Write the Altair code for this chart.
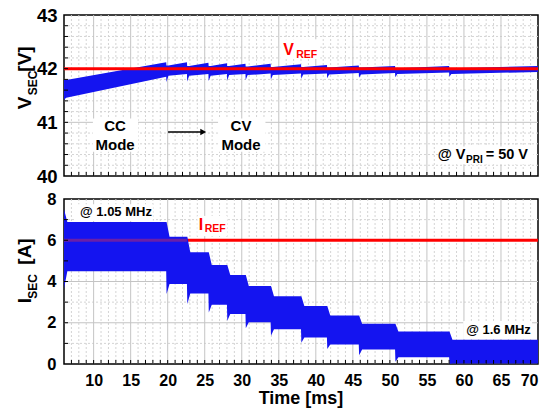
import altair as alt
import pandas as pd

FONT = "Liberation Sans"
W = 474
H_TOP, H_BOT = 161, 165

# ---------------- data ----------------
t_start, t_end = 6.0, 70.0
step_times = [19.8, 22.6, 25.5, 28.0, 30.5, 33.9, 38.0, 41.5, 45.8, 50.7, 58.0]

# secondary current envelope per segment [A]
i_upper = [6.88, 6.17, 5.42, 4.80, 4.31, 3.78, 3.28, 2.81, 2.35, 1.95, 1.57, 1.18]
i_lower = [4.50, 3.88, 3.42, 2.87, 2.43, 2.02, 1.68, 1.29, 0.95, 0.70, 0.33, 0.02]
i_dip = [3.65, 3.39, 2.91, 2.50, 2.10, 1.73, 1.37, 1.03, 0.73, 0.42, 0.11, 0.00]
i_start_peak = 7.50

# secondary voltage envelope per segment [V]
v_upper_start = [41.79, 42.06, 42.05, 42.05, 42.05, 42.04, 42.03, 42.03, 42.02, 42.02, 42.01, 42.01]
v_upper_end = [42.12, 42.12, 42.11, 42.10, 42.09, 42.09, 42.08, 42.07, 42.06, 42.05, 42.05, 42.05]
v_lower_start = [41.46, 41.87, 41.87, 41.87, 41.88, 41.88, 41.88, 41.89, 41.89, 41.89, 41.90, 41.90]
v_lower_end = [41.85, 41.90, 41.90, 41.90, 41.90, 41.91, 41.91, 41.91, 41.92, 41.92, 41.93, 41.94]
v_dip = [41.42, 41.75, 41.76, 41.77, 41.78, 41.79, 41.80, 41.81, 41.82, 41.83, 41.84, 41.85]

V_REF = 42.0
I_REF = 6.0

x_labels = [10, 15, 20, 25, 30, 35, 40, 45, 50, 55, 60, 65, 70]
v_labels = [40, 41, 42, 43]
i_labels = [0, 2, 4, 6, 8]

# ---------------- tables ----------------
seg_bounds = [t_start] + step_times + [t_end]

i_rows = [(t_start, i_start_peak, i_dip[0])]
for k in range(len(i_upper)):
    s, e = seg_bounds[k], seg_bounds[k + 1]
    if k > 0:
        i_rows.append((s + 0.05, i_upper[k - 1], i_dip[k]))
    i_rows.append((s + 0.45, i_upper[k], i_lower[k]))
    i_rows.append((e, i_upper[k], i_lower[k]))
i_df = pd.DataFrame(i_rows, columns=["t", "hi", "lo"])

v_rows = [(t_start, v_upper_start[0], v_dip[0])]
for k in range(len(v_upper_start)):
    s, e = seg_bounds[k], seg_bounds[k + 1]
    if k > 0:
        v_rows.append((s + 0.03, v_upper_start[k], v_dip[k]))
    v_rows.append((s + 0.3, v_upper_start[k], v_lower_start[k]))
    v_rows.append((e, v_upper_end[k], v_lower_end[k]))
v_df = pd.DataFrame(v_rows, columns=["t", "hi", "lo"])

BLUE = "#1414f0"
RED = "#ff0000"

xscale = alt.Scale(domain=[t_start, t_end], nice=False, zero=False)
vscale = alt.Scale(domain=[40, 43], nice=False, zero=False)
iscale = alt.Scale(domain=[0, 8], nice=False, zero=False)

AX_X_TOP = alt.Axis(labels=False, ticks=False, domain=False, grid=False, title=None)
AX_X_BOT = alt.Axis(values=x_labels, format="d", labelFont=FONT, labelFontWeight="bold",
                    labelFontSize=16, labelColor="black", labelPadding=8, ticks=False,
                    labelOverlap=False, domain=False, grid=False, title=None)
AX_V = alt.Axis(values=v_labels, format="d", labelFont=FONT, labelFontWeight="bold",
                labelFontSize=18.5, labelColor="black", labelPadding=7, ticks=False,
                labelOverlap=False, domain=False, grid=False, title=None)
AX_I = alt.Axis(values=i_labels, format="d", labelFont=FONT, labelFontWeight="bold",
                labelFontSize=16.5, labelColor="black", labelPadding=8, ticks=False,
                labelOverlap=False, domain=False, grid=False, title=None)


def XT(f):
    return alt.X(f, scale=xscale, axis=AX_X_TOP, title=None)


def XB(f):
    return alt.X(f, scale=xscale, axis=AX_X_BOT, title=None)


def YV(f):
    return alt.Y(f, scale=vscale, axis=AX_V, title=None)


def YI(f):
    return alt.Y(f, scale=iscale, axis=AX_I, title=None)


def grid_layers(X, Y, y_major, y_minor, x_major, x_minor):
    return [
        alt.Chart(pd.DataFrame({"x": x_minor})).mark_rule(
            color="#d4d4d4", strokeDash=[2, 2], strokeWidth=1).encode(x=X("x:Q")),
        alt.Chart(pd.DataFrame({"y": y_minor})).mark_rule(
            color="#d4d4d4", strokeDash=[2, 2], strokeWidth=1).encode(y=Y("y:Q")),
        alt.Chart(pd.DataFrame({"x": x_major})).mark_rule(
            color="#c4c4c4", strokeWidth=1).encode(x=X("x:Q")),
        alt.Chart(pd.DataFrame({"y": y_major})).mark_rule(
            color="#c4c4c4", strokeWidth=1).encode(y=Y("y:Q")),
    ]


def tick_layers(X, Y, y_ticks, x_ticks, h):
    a = alt.Chart(pd.DataFrame({"x": x_ticks})).mark_rule(color="black", strokeWidth=1).encode(
        x=X("x:Q"), y=alt.value(h), y2=alt.value(h - 4))
    b = alt.Chart(pd.DataFrame({"y": y_ticks})).mark_rule(color="black", strokeWidth=1).encode(
        y=Y("y:Q"), x=alt.value(0), x2=alt.value(4))
    return [a, b]


def box(X, Y, x, x2, y, y2):
    return alt.Chart(pd.DataFrame({"x": [x], "x2": [x2], "y": [y], "y2": [y2]})).mark_rect(
        color="white").encode(x=X("x:Q"), x2="x2:Q", y=Y("y:Q"), y2="y2:Q")


def label(X, Y, text, x, y, size, align="center", color="black"):
    return alt.Chart(pd.DataFrame({"x": [x], "y": [y], "text": [text]})).mark_text(
        font=FONT, fontWeight="bold", fontSize=size, align=align, baseline="middle",
        color=color).encode(x=X("x:Q"), y=Y("y:Q"), text="text:N")


def plabel(text, x, y, size, angle=270):
    return alt.Chart(pd.DataFrame({"text": [text]})).mark_text(
        font=FONT, fontWeight="bold", fontSize=size, align="center", baseline="middle",
        angle=angle, color="black").encode(x=alt.value(x), y=alt.value(y), text="text:N")


def hline(X, Y, x, x2, y, color):
    return alt.Chart(pd.DataFrame({"x": [x], "x2": [x2], "y": [y]})).mark_rule(
        color=color, strokeWidth=3).encode(x=X("x:Q"), x2="x2:Q", y=Y("y:Q"))


x_minor = [t for t in range(7, 70) if t % 5 != 0]
x_ticks = list(range(7, 70))

# ---------------- top panel ----------------
v_minor = [40.2, 40.4, 40.6, 40.8, 41.2, 41.4, 41.6, 41.8, 42.2, 42.4, 42.6, 42.8]
v_ticks = v_minor + [41, 42]

top_layers = grid_layers(XT, YV, [41, 42], v_minor, x_labels[:-1], x_minor)
top_layers += [
    box(XT, YV, 9.9, 16.0, 40.45, 41.07),
    box(XT, YV, 26.8, 33.2, 40.45, 41.07),
    box(XT, YV, 56.5, 69.4, 40.22, 40.55),
    box(XT, YV, 35.2, 40.6, 42.18, 42.55),
]
top_layers.append(alt.Chart(v_df).mark_area(color=BLUE, opacity=1, clip=True).encode(
    x=XT("t:Q"), y=YV("hi:Q"), y2="lo:Q"))
top_layers.append(hline(XT, YV, t_start, t_end, V_REF, RED))
top_layers += [
    label(XT, YV, "CC", 12.9, 40.93, 15),
    label(XT, YV, "Mode", 12.9, 40.58, 15),
    label(XT, YV, "CV", 29.9, 40.93, 15),
    label(XT, YV, "Mode", 29.9, 40.58, 15),
    label(XT, YV, "V", 35.6, 42.35, 16, align="left", color=RED),
    label(XT, YV, "REF", 37.35, 42.25, 10.5, align="left", color=RED),
    label(XT, YV, "@ V", 60.21, 40.40, 14.5, align="right"),
    label(XT, YV, "PRI", 62.53, 40.29, 10, align="right"),
    label(XT, YV, "= 50 V", 68.65, 40.40, 14.5, align="right"),
]
# arrow CC -> CV
top_layers.append(alt.Chart(pd.DataFrame({"x": [20.05], "x2": [24.6], "y": [40.82]})).mark_rule(
    color="black", strokeWidth=1.5).encode(x=XT("x:Q"), x2="x2:Q", y=YV("y:Q")))
top_layers.append(alt.Chart(pd.DataFrame({"x": [24.8], "y": [40.82]})).mark_point(
    shape="triangle-right", filled=True, color="black", opacity=1, size=45).encode(
    x=XT("x:Q"), y=YV("y:Q")))
top_layers += tick_layers(XT, YV, v_ticks, x_ticks, H_TOP)
top_layers += [
    plabel("V", -39, 88, 19),
    plabel("SEC", -31.5, 68, 12),
    plabel("[V]", -39, 44, 19),
]
top = alt.layer(*top_layers).properties(width=W, height=H_TOP)

# ---------------- bottom panel ----------------
i_minor = [1, 3, 5, 7]
i_ticks = [1, 2, 3, 4, 5, 6, 7]

bot_layers = grid_layers(XB, YI, [2, 4, 6], i_minor, x_labels[:-1], x_minor)
bot_layers += [
    box(XB, YI, 7.5, 18.0, 6.93, 7.75),
    box(XB, YI, 24.0, 28.0, 6.2, 7.18),
    box(XB, YI, 59.9, 69.2, 1.21, 2.08),
]
bot_layers.append(hline(XB, YI, t_start, t_end, I_REF, RED))
bot_layers.append(alt.Chart(i_df).mark_area(color=BLUE, opacity=1, clip=True).encode(
    x=XB("t:Q"), y=YI("hi:Q"), y2="lo:Q"))
bot_layers.append(hline(XB, YI, t_start, step_times[1], I_REF, "#6a1fa8"))
bot_layers += [
    label(XB, YI, "@ 1.05 MHz", 8.16, 7.37, 13, align="left"),
    label(XB, YI, "I", 24.2, 6.76, 16, align="left", color=RED),
    label(XB, YI, "REF", 25.0, 6.55, 10.5, align="left", color=RED),
    label(XB, YI, "@ 1.6 MHz", 60.3, 1.65, 13, align="left"),
]
bot_layers += tick_layers(XB, YI, i_ticks, x_ticks, H_BOT)
bot_layers += [
    plabel("I", -39, 101.5, 19),
    plabel("SEC", -31.5, 87.5, 12),
    plabel("[A]", -39, 52.5, 19),
    plabel("Time [ms]", W / 2, H_BOT + 35, 18, angle=0),
]
bottom = alt.layer(*bot_layers).properties(width=W, height=H_BOT)

chart = alt.vconcat(top, bottom, spacing=23, bounds="flush").properties(
    padding={"left": 7, "top": -3, "right": 0, "bottom": 0}
).configure_view(stroke="black", strokeWidth=1.5)

chart.save("out.html", embed_options={"renderer": "svg", "actions": False})
